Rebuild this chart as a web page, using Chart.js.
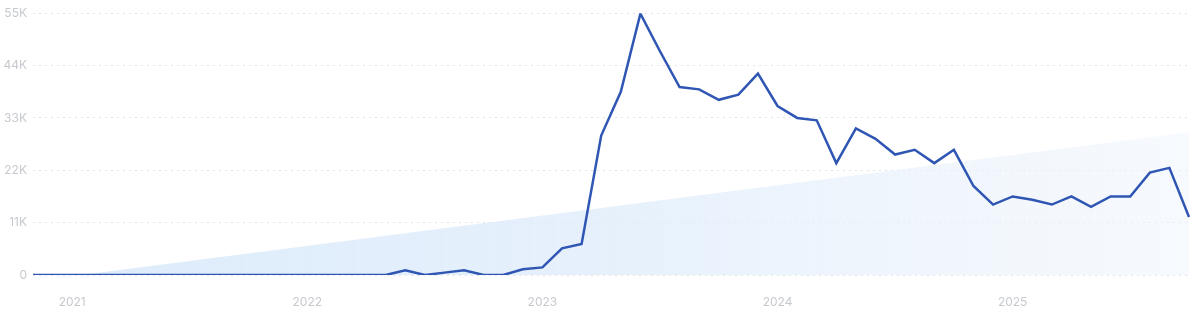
<!DOCTYPE html>
<html>
<head>
<meta charset="utf-8">
<script src="https://cdn.jsdelivr.net/npm/chart.js@4"></script>
<style>
  html, body { margin: 0; padding: 0; background: #ffffff; }
  #wrap { width: 1200px; height: 313px; position: relative; }
</style>
</head>
<body>
<div id="wrap"><canvas id="c"></canvas></div>
<script>
// Months from Nov 2020 to Oct 2025
const months = [
  "2020-11","2020-12",
  "2021-01","2021-02","2021-03","2021-04","2021-05","2021-06","2021-07","2021-08","2021-09","2021-10","2021-11","2021-12",
  "2022-01","2022-02","2022-03","2022-04","2022-05","2022-06","2022-07","2022-08","2022-09","2022-10","2022-11","2022-12",
  "2023-01","2023-02","2023-03","2023-04","2023-05","2023-06","2023-07","2023-08","2023-09","2023-10","2023-11","2023-12",
  "2024-01","2024-02","2024-03","2024-04","2024-05","2024-06","2024-07","2024-08","2024-09","2024-10","2024-11","2024-12",
  "2025-01","2025-02","2025-03","2025-04","2025-05","2025-06","2025-07","2025-08","2025-09","2025-10"
];

const searchVolume = [
  0, 0,
  0, 0, 0, 0, 0, 0, 0, 0, 0, 0, 0, 0,
  0, 0, 0, 0, 0, 1000, 0, 500, 1000, 0, 0, 1200,
  1600, 5600, 6500, 29300, 38500, 54900, 47000, 39500, 39000, 36800, 37900, 42300,
  35500, 33000, 32500, 23500, 30800, 28600, 25300, 26300, 23500, 26300, 18700, 14800,
  16500, 15800, 14800, 16500, 14300, 16500, 16500, 21500, 22500, 12200
];

// Trend line end values (start, end)
const trendStart = -1300;
const trendEnd = 30000;

const yTicks = [0, 11000, 22000, 33000, 44000, 55000];
const yTickLabels = ["0", "11K", "22K", "33K", "44K", "55K"];

const trendData = months.map((m, i) => i === 0 ? trendStart : (i === months.length - 1 ? trendEnd : null));

const ctx = document.getElementById('c').getContext('2d');

const chart = new Chart(ctx, {
  type: 'line',
  data: {
    labels: months,
    datasets: [
      {
        label: 'Volume',
        data: searchVolume,
        borderColor: '#3056b4',
        borderWidth: 2.5,
        pointRadius: 0,
        tension: 0,
        fill: false,
        order: 0
      },
      {
        label: 'Trend',
        data: trendData,
        spanGaps: true,
        borderWidth: 0,
        borderColor: 'rgba(0,0,0,0)',
        pointRadius: 0,
        tension: 0,
        fill: 'origin',
        backgroundColor: function(context) {
          const c = context.chart;
          const area = c.chartArea;
          if (!area) return 'rgba(220,234,250,0.6)';
          const g = c.ctx.createLinearGradient(area.left, 0, area.right, 0);
          g.addColorStop(0, 'rgba(214,231,250,0.85)');
          g.addColorStop(0.5, 'rgba(222,236,251,0.75)');
          g.addColorStop(1, 'rgba(240,245,252,0.55)');
          return g;
        },
        order: 1
      }
    ]
  },
  options: {
    responsive: true,
    maintainAspectRatio: false,
    animation: false,
    layout: { padding: { top: 6, right: 11, left: 0, bottom: 0 } },
    plugins: {
      legend: { display: false },
      tooltip: { enabled: false }
    },
    scales: {
      x: {
        type: 'category',
        offset: false,
        grid: { display: false, drawTicks: false },
        border: { display: false },
        ticks: {
          autoSkip: false,
          maxRotation: 0,
          padding: 20,
          color: '#c6c9ce',
          font: { family: 'Inter, Roboto, sans-serif', size: 12 },
          callback: function(value, index) {
            const lab = months[index];
            return lab.endsWith('-01') ? lab.slice(0, 4) : '';
          }
        },
        afterFit: function(scale) {
          scale.height = 38;
          scale.paddingLeft = 0;
          scale.paddingRight = 0;
        }
      },
      y: {
        min: 0,
        max: 55000,
        afterBuildTicks: function(scale) {
          scale.ticks = yTicks.map(v => ({ value: v }));
        },
        grid: {
          color: '#e2e4e8',
          lineWidth: 1,
          drawTicks: false
        },
        border: { display: false, dash: [2, 4] },
        ticks: {
          padding: 6,
          color: '#c6c9ce',
          font: { family: 'Inter, Roboto, sans-serif', size: 12 },
          callback: function(value) {
            const idx = yTicks.indexOf(value);
            return idx >= 0 ? yTickLabels[idx] : '';
          }
        },
        afterFit: function(scale) { scale.width = 33; }
      }
    }
  }
});
</script>
</body>
</html>
